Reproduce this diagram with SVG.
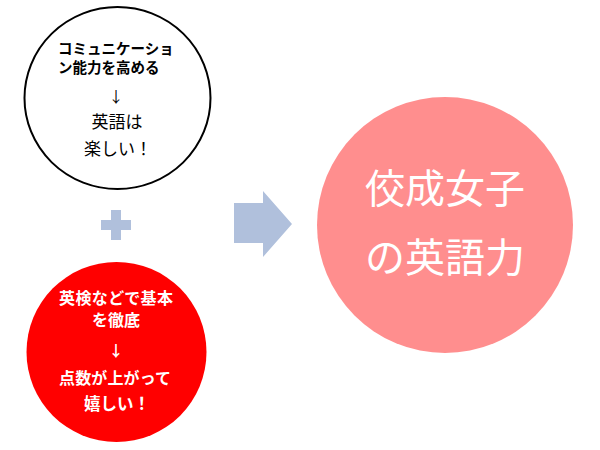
<svg xmlns="http://www.w3.org/2000/svg" width="600" height="450" viewBox="0 0 600 450">
<style>
  text { font-family: "Noto Sans CJK JP", "Liberation Sans", sans-serif; text-anchor: middle; }
  .dark { fill: #000000; }
  .light { fill: #ffffff; }
  .b { font-weight: bold; }
  .sym { fill: #b0c0dc; }
</style>
<rect width="600" height="450" fill="#ffffff"/>
<g id="node-communication">
  <ellipse cx="117.5" cy="98" rx="93" ry="91" fill="#ffffff" stroke="#000000" stroke-width="2"/>
  <text class="dark b" x="58" y="54" font-size="14.5" style="text-anchor:start">コミュニケーショ</text>
  <text class="dark b" x="58" y="73" font-size="14.5" style="text-anchor:start">ン能力を高める</text>
  <text class="dark" x="116" y="102" font-size="15">↓</text>
  <text class="dark" x="117" y="128" font-size="17">英語は</text>
  <text class="dark" x="118" y="155" font-size="17">楽しい！</text>
</g>
<g id="node-eiken">
  <circle cx="116.5" cy="352" r="90" fill="#ff0000"/>
  <text class="light b" x="116" y="304" font-size="16" textLength="114">英検などで基本</text>
  <text class="light b" x="116" y="326" font-size="16">を徹底</text>
  <text class="light b" x="116" y="356" font-size="15">↓</text>
  <text class="light b" x="115" y="384" font-size="16" textLength="112">点数が上がって</text>
  <text class="light b" x="117" y="410" font-size="16.5">嬉しい！</text>
</g>
<g id="node-result">
  <circle cx="445" cy="225" r="128" fill="#ff8e8e"/>
  <text class="light" x="445" y="203" font-size="40">佼成女子</text>
  <text class="light" x="445" y="272" font-size="40">の英語力</text>
</g>
<g id="connectors">
  <path class="sym" d="M111 210 H121 V220 H131 V230 H121 V240 H111 V230 H101 V220 H111 Z"/>
  <polygon class="sym" points="234,203 263,203 263,191 292,224 263,257 263,243 234,243"/>
</g>
</svg>
